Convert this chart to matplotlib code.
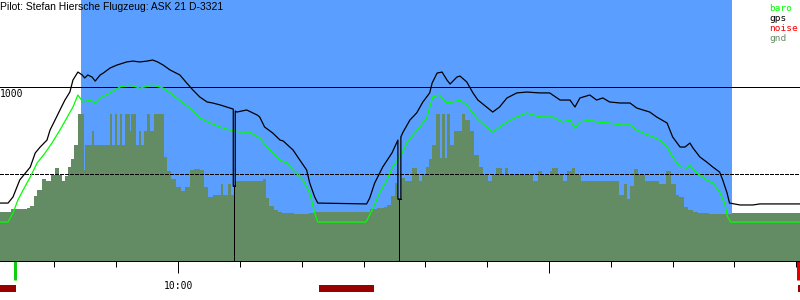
import numpy as np
import matplotlib.pyplot as plt

# time in minutes after 09:00, altitude in m
gps_t = [31.2, 32.5, 33.3, 34.4, 36.1, 36.9, 37.7, 38.8, 39.3, 40.1, 40.9, 41.7,
         42.5, 43.0, 43.8, 44.5, 44.9, 45.4, 46.1, 46.6, 47.4, 47.9, 49.0, 50.1,
         51.7, 52.7, 53.8, 55.0, 55.9, 56.7, 57.6, 58.7, 60.3, 61.4, 62.4, 63.5,
         64.7, 65.6, 66.8, 68.4, 68.93, 68.93, 69.25, 69.25, 69.5, 71.1, 72.8,
         73.2, 74.0, 75.3, 76.5, 77.0, 78.6, 79.7, 80.8, 81.3, 82.1, 82.6, 90.5,
         91.0, 91.8, 93.1, 94.6, 95.56, 95.56, 96.04, 96.04, 96.4, 97.5, 98.6,
         99.6, 100.7, 101.1, 101.9, 102.7, 103.5, 104.0, 105.1, 105.6, 106.7,
         107.7, 108.5, 109.9, 110.9, 112.0, 113.2, 114.8, 116.4, 118.5, 120.1,
         121.8, 123.4, 124.2, 125.0, 126.6, 127.7, 128.7, 129.8, 131.5, 133.1,
         134.2, 135.2, 136.3, 137.4, 139.1, 140.0, 141.2, 142.0, 142.8, 143.3,
         144.4, 145.5, 146.5, 147.6, 148.1, 148.8, 149.2, 150.9, 153.0, 154.1,
         160.6]
gps_alt = [333, 333, 368, 466, 540, 621, 655, 695, 753, 810, 868, 925,
           971, 1040, 1086, 1069, 1052, 1069, 1057, 1034, 1069, 1080, 1109, 1126,
           1144, 1149, 1144, 1149, 1155, 1144, 1126, 1098, 1069, 1023, 983, 943,
           914, 908, 897, 879, 873, 431, 431, 862, 856, 868, 839,
           828, 770, 736, 695, 690, 638, 580, 523, 448, 368, 333, 328,
           362, 448, 540, 621, 695, 356, 356, 713, 741, 810, 851,
           914, 966, 1023, 1080, 1086, 1040, 1017, 1057, 1063, 1029,
           966, 925, 885, 856, 885, 937, 966, 971, 966, 966,
           925, 925, 885, 937, 954, 925, 937, 914, 908, 908,
           879, 868, 856, 828, 793, 713, 655, 655, 678, 649,
           598, 569, 540, 511, 466, 391, 333, 322, 322, 328,
           328]

baro_t = [31.2, 32.5, 33.3, 34.1, 35.2, 36.1, 37.2, 38.5, 39.6, 40.9, 42.0, 43.0,
          43.8, 44.6, 45.8, 46.6, 47.4, 49.0, 50.6, 52.2, 53.8, 55.9, 57.6, 59.2,
          60.8, 61.9, 63.5, 65.2, 66.8, 68.4, 70.0, 71.6, 73.2, 74.4, 75.3, 76.5,
          77.6, 78.6, 80.2, 81.3, 82.1, 82.6, 90.4, 91.4, 92.6, 93.8, 94.7, 95.9,
          97.0, 98.0, 99.1, 100.2, 101.2, 102.3, 103.5, 104.5, 105.6, 106.7, 108.3,
          109.9, 110.9, 112.0, 113.2, 114.8, 116.4, 118.5, 120.6, 122.2, 123.4,
          124.2, 125.0, 126.6, 127.7, 129.8, 131.5, 133.1, 134.2, 135.2, 136.8,
          137.9, 139.1, 140.0, 141.2, 142.3, 142.8, 143.9, 145.5, 146.5, 147.6,
          148.4, 148.9, 149.4, 160.6]
baro_alt = [224, 224, 276, 351, 425, 483, 563, 621, 678, 753, 822, 885,
            954, 914, 925, 908, 937, 966, 1000, 1011, 994, 1011, 994, 954,
            908, 879, 822, 793, 770, 753, 741, 741, 707, 655, 621, 580,
            563, 523, 466, 391, 276, 224, 224, 293, 391, 466, 540, 598,
            678, 724, 770, 822, 943, 954, 908, 914, 925, 897, 822,
            770, 741, 770, 799, 828, 851, 828, 828, 799, 810,
            764, 799, 810, 799, 793, 782, 782, 753, 736, 713,
            695, 655, 598, 540, 534, 552, 506, 466, 448, 397,
            333, 253, 224, 224]

gnd_edges = [31.2, 33.0, 35.6, 36.1, 36.7, 37.2, 38.0, 38.6, 39.4, 40.1, 40.7,
             41.2, 41.7, 42.2, 42.7, 43.2, 43.8, 44.8, 44.9, 46.1, 46.4, 49.0,
             49.3, 49.8, 50.1, 50.6, 50.9, 51.4, 52.2, 52.4, 53.2, 53.7, 54.0,
             54.5, 55.0, 55.5, 56.1, 57.7, 58.2, 58.9, 59.7, 60.5, 61.1, 61.9,
             62.6, 63.5, 64.2, 64.8, 65.6, 66.9, 67.3, 68.1, 68.6, 69.2, 73.7,
             74.2, 74.7, 75.5, 76.2, 76.8, 78.7, 81.2, 82.1, 91.0, 92.2, 93.3,
             93.8, 94.4, 95.1, 95.6, 96.0, 96.7, 97.8, 98.6, 98.9, 99.4, 100.1,
             100.6, 101.1, 101.7, 102.3, 102.7, 103.2, 103.5, 104.0, 104.6,
             105.9, 106.4, 107.2, 107.8, 108.7, 109.3, 110.1, 110.8, 111.4,
             112.4, 112.9, 113.3, 117.4, 118.2, 118.8, 120.1, 120.5, 121.4,
             122.2, 122.9, 123.7, 124.2, 125.1, 131.3, 132.1, 132.6, 133.1,
             133.7, 134.4, 135.5, 137.8, 138.9, 139.7, 140.5, 141.0, 141.8,
             142.5, 143.3, 144.1, 145.8, 149.6, 160.6]
gnd_alt = [282, 299, 305, 316, 374, 408, 471, 460, 494, 534, 494,
           460, 488, 540, 586, 667, 845, 523, 667, 747, 667, 845,
           667, 845, 667, 845, 667, 845, 747, 845, 667, 747, 667,
           747, 845, 747, 845, 598, 517, 471, 425, 402, 425, 523,
           529, 523, 425, 368, 379, 443, 379, 443, 379, 460, 471,
           362, 316, 293, 282, 276, 270, 276, 282, 299, 305, 310,
           322, 374, 448, 356, 477, 460, 534, 494, 460, 494, 540,
           586, 667, 845, 592, 845, 592, 845, 667, 747,
           845, 810, 747, 609, 540, 494, 460, 494, 534,
           494, 534, 494, 460, 517, 494, 517, 534, 494,
           460, 517, 534, 494, 460, 379, 443, 356, 431,
           529, 494, 460, 443, 517, 443, 379, 368, 310,
           293, 282, 276, 270, 276]

# gps drop-outs: left edge, right edge, bottom
drop_t0 = [68.93, 95.56]
drop_t1 = [69.25, 96.04]
drop_alt = [431, 356]
flight = (44.3, 149.6)
takeoff_t = 33.6
landing_t = 160.3
noise_spans = [(31.2, 33.8), (82.8, 91.7), (160.2, 160.7)]
ref_alt = [1000, 500]
title = 'Pilot: Stefan Hiersche Flugzeug: ASK 21 D-3321'
legend = [('baro', '#00ff00'), ('gps', 'black'), ('noise', '#ff0000'), ('gnd', '#648c64')]

PX = 0.72  # one pixel in points at dpi 100
BLUE = '#5a9fff'
GND = '#648c64'
mono = 'DejaVu Sans Mono'

fig = plt.figure(figsize=(8, 3), dpi=100)
ax = fig.add_axes([0, 39 / 300, 1, 261 / 300])
ax.set_xlim(31.2, 160.6)
ax.set_ylim(0, 1500)

ax.axvspan(*flight, color=BLUE, lw=0, zorder=0)
ax.stairs(gnd_alt, gnd_edges, baseline=0, fill=True, color=GND, lw=0, zorder=1)
ax.axhline(ref_alt[0], color='black', lw=PX, antialiased=False, zorder=2)
ax.axhline(ref_alt[1], color='black', lw=PX, ls=(0, (4, 2)), antialiased=False, zorder=2)

ax.plot(baro_t, baro_alt, color='#00ff00', lw=0.9, zorder=3)
ax.plot(gps_t, gps_alt, color='black', lw=0.9, zorder=4)
mid = [(a + b) / 2 for a, b in zip(drop_t0, drop_t1)]
ax.vlines(mid, 0, drop_alt, color='black', lw=PX, antialiased=False, zorder=4)
ax.hlines(drop_alt, drop_t0, drop_t1, color='black', lw=PX, antialiased=False, zorder=4)

ax.text(31.2, 941, '1000', family=mono, fontsize=7, va='baseline', ha='left')

# below the axis: take-off / landing marks and noise bars
trans = ax.get_xaxis_transform()
ax.vlines([takeoff_t], -19 / 261, 0, transform=trans, color='#11cc11', lw=3 * PX, clip_on=False)
ax.vlines([landing_t], -19 / 261, 0, transform=trans, color='#dd0000', lw=3 * PX, clip_on=False)
for a, b in noise_spans:
    ax.axvspan(a, b, -31 / 261, -24 / 261, color='#990000', lw=0, clip_on=False)

for s in ['top', 'left', 'right']:
    ax.spines[s].set_visible(False)
ax.spines['bottom'].set_linewidth(PX)
ax.set_yticks([])
ax.set_xticks([60, 120])
ax.set_xticklabels(['10:00', ''], family=mono, fontsize=7)
ax.set_xticks(np.arange(40, 161, 10), minor=True)
ax.tick_params(which='major', length=12 * PX, width=PX, pad=6)
ax.tick_params(which='minor', length=6 * PX, width=PX)

fig.text(0.0, 1 - 9.5 / 300, title, family='Liberation Sans', fontsize=7.5,
         va='baseline', ha='left', zorder=10)
for i, (name, col) in enumerate(legend):
    fig.text(769 / 800, 1 - (10.7 + 10 * i) / 300, name, color=col, family=mono,
             fontsize=6.8, va='baseline', ha='left')

fig.savefig('out.png', dpi=100)
